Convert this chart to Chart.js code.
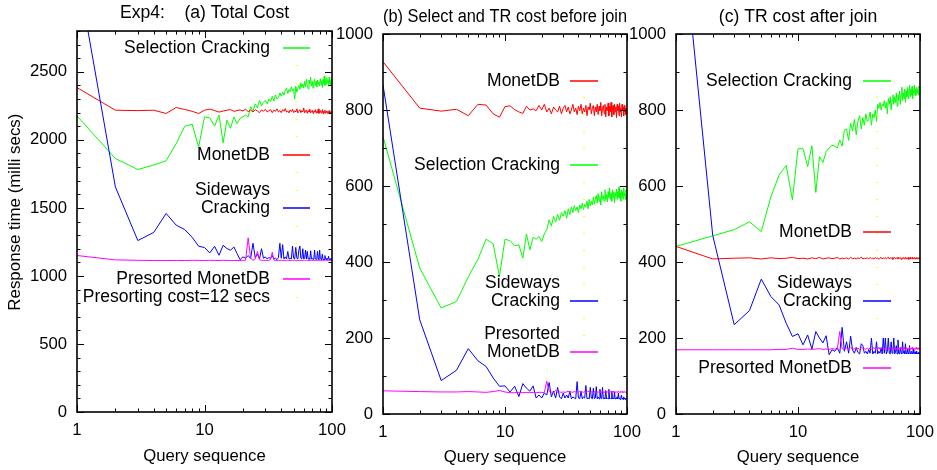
<!DOCTYPE html>
<html lang="en">
<head>
<meta charset="UTF-8">
<title>Exp4 response time</title>
<script src="https://cdn.jsdelivr.net/npm/chart.js"></script>
<style>
  body { margin: 0; background: #fff; }
  .panel { position: absolute; top: 0; }
</style>
</head>
<body>
<div class="panel" style="left:0px"><canvas id="chartA" width="350" height="470"></canvas></div>
<div class="panel" style="left:325px"><canvas id="chartB" width="320" height="470"></canvas></div>
<div class="panel" style="left:615px"><canvas id="chartC" width="322" height="470"></canvas></div>
<script>
// query sequence numbers 1..100
const queries = [];
for (let q = 1; q <= 100; q++) queries.push(q);

const xTicks = [1, 10, 100];
const aYTicks = [0, 500, 1000, 1500, 2000, 2500];
const bcYTicks = [0, 200, 400, 600, 800, 1000];

// (a) Total Cost
const aSelection = [2176, 1863, 1782, 1815, 1846, 1973, 2101, 2115, 1948, 2169,
  2162, 2101, 2182, 1978, 2145, 2085, 2169, 2120, 2157, 2169,
  2182, 2169, 2243, 2210, 2265, 2235, 2290, 2250, 2275, 2290,
  2265, 2300, 2280, 2320, 2285, 2330, 2300, 2310, 2345, 2320,
  2350, 2330, 2365, 2380, 2340, 2370, 2355, 2390, 2360, 2375,
  2300, 2395, 2350, 2380, 2400, 2370, 2420, 2385, 2410, 2380,
  2430, 2390, 2445, 2400, 2375, 2440, 2410, 2460, 2395, 2430,
  2380, 2420, 2445, 2400, 2430, 2390, 2440, 2410, 2425, 2395,
  2450, 2405, 2430, 2385, 2445, 2415, 2470, 2400, 2435, 2410,
  2455, 2420, 2440, 2395, 2460, 2415, 2435, 2405, 2445, 2420];
const aMonetDB = [2384, 2218, 2215, 2218, 2194, 2238, 2223, 2210, 2194, 2218,
  2226, 2215, 2204, 2212, 2218, 2222, 2210, 2215, 2220, 2212,
  2225, 2208, 2218, 2205, 2222, 2212, 2200, 2220, 2210, 2225,
  2205, 2215, 2222, 2200, 2218, 2210, 2228, 2205, 2215, 2200,
  2222, 2210, 2230, 2205, 2212, 2198, 2220, 2208, 2225, 2200,
  2215, 2205, 2228, 2198, 2210, 2222, 2200, 2215, 2205, 2235,
  2198, 2212, 2220, 2195, 2215, 2205, 2225, 2198, 2210, 2218,
  2195, 2212, 2205, 2222, 2198, 2210, 2200, 2228, 2195, 2208,
  2215, 2198, 2205, 2222, 2192, 2210, 2200, 2218, 2195, 2205,
  2212, 2195, 2208, 2200, 2215, 2192, 2205, 2198, 2208, 2200];
const aSideways = [3260, 1654, 1260, 1320, 1459, 1373, 1341, 1284, 1218, 1209,
  1169, 1218, 1152, 1225, 1201, 1189, 1213, 1165, 1120, 1140,
  1130, 1150, 1128, 1240, 1135, 1160, 1125, 1200, 1130, 1140,
  1125, 1135, 1130, 1150, 1125, 1130, 1120, 1135, 1240, 1130,
  1230, 1125, 1140, 1125, 1180, 1125, 1130, 1125, 1220, 1130,
  1125, 1210, 1130, 1125, 1190, 1220, 1130, 1125, 1200, 1125,
  1130, 1190, 1125, 1180, 1125, 1130, 1120, 1185, 1125, 1130,
  1120, 1125, 1190, 1125, 1120, 1130, 1180, 1125, 1120, 1190,
  1125, 1120, 1130, 1160, 1120, 1125, 1120, 1150, 1125, 1120,
  1130, 1120, 1125, 1145, 1120, 1125, 1120, 1130, 1120, 1125];
const aPresorted = [1150, 1118, 1115, 1113, 1113, 1114, 1113, 1115, 1114, 1113,
  1115, 1114, 1113, 1115, 1114, 1113, 1113, 1114, 1113, 1115,
  1115, 1280, 1130, 1115, 1125, 1180, 1120, 1115, 1114, 1115,
  1113, 1115, 1120, 1175, 1118, 1114, 1113, 1115, 1114, 1116,
  1113, 1115, 1114, 1113, 1116, 1114, 1113, 1115, 1114, 1113,
  1116, 1114, 1115, 1113, 1114, 1116, 1113, 1115, 1114, 1113,
  1115, 1114, 1116, 1113, 1114, 1115, 1113, 1114, 1116, 1113,
  1115, 1114, 1113, 1115, 1114, 1116, 1113, 1114, 1115, 1113,
  1114, 1116, 1113, 1115, 1114, 1113, 1115, 1114, 1116, 1113,
  1114, 1115, 1113, 1114, 1116, 1113, 1115, 1114, 1113, 1115];

// (b) Select and TR cost before join
const bMonetDB = [927, 805, 797, 802, 785, 815, 813, 790, 781, 809,
  811, 801, 795, 791, 810, 800, 803, 798, 812, 800,
  815, 795, 805, 790, 808, 800, 795, 810, 790, 805,
  812, 795, 808, 790, 800, 815, 795, 805, 788, 810,
  798, 815, 790, 805, 795, 812, 785, 808, 800, 818,
  790, 805, 812, 785, 808, 795, 815, 788, 810, 798,
  820, 785, 805, 812, 790, 815, 782, 808, 798, 818,
  785, 810, 795, 820, 782, 805, 812, 788, 815, 795,
  808, 780, 815, 798, 810, 785, 818, 795, 805, 782,
  815, 798, 808, 785, 812, 795, 805, 788, 800, 792];
const bSelection = [730, 384, 279, 296, 361, 407, 460, 448, 362, 460,
  456, 443, 445, 410, 474, 432, 465, 460, 467, 454,
  474, 485, 511, 495, 520, 505, 525, 510, 530, 520,
  535, 515, 540, 525, 545, 530, 548, 535, 545, 530,
  550, 540, 555, 538, 552, 545, 560, 540, 565, 548,
  560, 550, 570, 552, 565, 575, 555, 580, 560, 572,
  550, 585, 565, 575, 560, 590, 565, 578, 558, 585,
  570, 595, 565, 580, 560, 590, 570, 585, 555, 580,
  575, 592, 565, 585, 570, 598, 568, 582, 560, 590,
  572, 585, 565, 595, 575, 580, 565, 590, 570, 580];
const bSideways = [866, 248, 88, 115, 172, 140, 125, 95, 73, 74,
  58, 73, 46, 80, 68, 60, 74, 42, 50, 42,
  55, 50, 83, 45, 60, 42, 70, 45, 40, 55,
  42, 50, 42, 60, 40, 45, 42, 40, 85, 42,
  40, 60, 40, 45, 42, 75, 40, 42, 40, 70,
  42, 40, 68, 40, 42, 72, 40, 45, 40, 65,
  42, 40, 70, 40, 42, 40, 62, 40, 42, 40,
  65, 40, 42, 40, 60, 40, 42, 40, 58, 40,
  42, 40, 45, 40, 55, 42, 40, 38, 42, 50,
  40, 42, 38, 45, 40, 42, 38, 40, 42, 40];
const bPresorted = [61, 59, 58, 58, 59, 58, 57, 59, 62, 58,
  56, 56, 57, 56, 57, 56, 57, 56, 57, 57,
  56, 86, 60, 58, 57, 62, 57, 58, 57, 58,
  57, 58, 60, 57, 58, 57, 59, 58, 57, 58,
  60, 57, 58, 57, 59, 58, 57, 60, 58, 57,
  58, 59, 57, 58, 60, 57, 58, 57, 59, 58,
  57, 58, 60, 57, 58, 57, 59, 58, 57, 60,
  58, 57, 58, 59, 57, 58, 60, 57, 58, 57,
  59, 58, 57, 58, 60, 57, 58, 59, 57, 58,
  57, 60, 58, 57, 58, 59, 57, 58, 57, 58];

// (c) TR cost after join
const cSelection = [441, 469, 485, 506, 480, 572, 629, 654, 564, 698,
  698, 651, 706, 583, 677, 662, 690, 700, 707, 705,
  700, 721, 705, 747, 750, 720, 765, 745, 775, 735,
  770, 785, 750, 780, 760, 790, 770, 775, 795, 760,
  790, 780, 800, 770, 815, 805, 820, 800, 815, 810,
  825, 805, 820, 790, 830, 815, 835, 800, 825, 840,
  815, 835, 820, 845, 810, 840, 825, 850, 815, 840,
  860, 825, 845, 830, 855, 820, 850, 835, 860, 830,
  845, 865, 835, 855, 840, 862, 830, 850, 845, 866,
  838, 855, 840, 860, 845, 855, 840, 862, 848, 850];
const cMonetDB = [441, 408, 410, 411, 408, 411, 409, 410, 412, 409,
  410, 408, 411, 409, 412, 408, 410, 411, 409, 410,
  412, 408, 410, 409, 411, 408, 412, 409, 410, 408,
  411, 409, 413, 408, 410, 409, 411, 408, 412, 409,
  410, 408, 412, 409, 411, 407, 410, 412, 408, 411,
  409, 412, 408, 410, 413, 408, 411, 409, 412, 407,
  410, 412, 408, 411, 409, 413, 408, 410, 412, 407,
  411, 409, 412, 408, 410, 413, 408, 411, 409, 412,
  407, 410, 412, 408, 411, 409, 413, 408, 410, 412,
  408, 411, 409, 412, 408, 410, 411, 408, 410, 409];
const cSideways = [1440, 470, 235, 272, 355, 309, 287, 239, 204, 211,
  182, 208, 171, 217, 200, 187, 206, 156, 169, 165,
  175, 160, 228, 165, 190, 160, 205, 168, 160, 175,
  162, 158, 185, 180, 160, 165, 158, 170, 160, 200,
  158, 165, 160, 190, 158, 165, 160, 175, 158, 200,
  160, 200, 158, 165, 200, 160, 158, 190, 160, 165,
  200, 158, 162, 180, 158, 195, 160, 158, 175, 160,
  158, 190, 160, 165, 158, 185, 160, 158, 170, 160,
  158, 180, 160, 158, 165, 160, 158, 170, 160, 158,
  162, 158, 165, 158, 160, 158, 162, 158, 160, 158];
const cPresorted = [169, 169, 169, 169, 169, 169, 170, 170, 173, 170,
  170, 171, 170, 171, 172, 170, 171, 170, 172, 171,
  170, 217, 172, 170, 174, 171, 176, 170, 172, 171,
  173, 170, 175, 171, 172, 170, 174, 171, 173, 170,
  172, 175, 170, 173, 171, 176, 170, 172, 174, 171,
  170, 175, 172, 170, 174, 171, 176, 170, 173, 171,
  172, 170, 175, 171, 173, 170, 174, 172, 170, 176,
  171, 173, 170, 175, 172, 170, 174, 171, 173, 170,
  172, 176, 170, 173, 171, 175, 170, 172, 174, 171,
  170, 173, 175, 171, 172, 170, 174, 171, 172, 170];

const GREEN = '#00ff00', RED = '#ff0000', BLUE = '#0000ff', MAGENTA = '#ff00ff', YELLOW = '#ffff00';
const FONT = 'Liberation Sans';

Chart.defaults.font.family = FONT;
Chart.defaults.font.size = 16.7;
Chart.defaults.color = '#000';

function series(values) {
    return values.map((v, i) => ({ x: queries[i], y: v }));
}

function line(label, values, color, order) {
    return { label: label, data: series(values), borderColor: color, backgroundColor: color,
             borderWidth: 1, pointRadius: 0, tension: 0, order: order };
}

// gnuplot style frame with inward ticks, drawn from the chart scales
const gnuplotFrame = {
    id: 'gnuplotFrame',
    afterDatasetsDraw(chart, args, opts) {
        const { ctx, chartArea: a, scales: { x, y } } = chart;
        ctx.save();
        ctx.strokeStyle = '#000';
        ctx.lineWidth = 1;
        ctx.beginPath();
        const xMinor = [];
        [1, 10].forEach(d => { for (let k = 2; k <= 9; k++) xMinor.push(k * d); });
        xMinor.forEach(v => {
            const px = Math.round(x.getPixelForValue(v)) + 0.5;
            ctx.moveTo(px, a.bottom); ctx.lineTo(px, a.bottom - 3.5);
            ctx.moveTo(px, a.top); ctx.lineTo(px, a.top + 3.5);
        });
        xTicks.forEach(v => {
            const px = Math.round(x.getPixelForValue(v)) + 0.5;
            ctx.moveTo(px, a.bottom); ctx.lineTo(px, a.bottom - 7);
            ctx.moveTo(px, a.top); ctx.lineTo(px, a.top + 7);
        });
        for (let v = 0; v <= opts.yMax; v += 100) {
            const py = Math.round(y.getPixelForValue(v)) + 0.5;
            const len = opts.yMajor.includes(v) ? 7 : 3.5;
            ctx.moveTo(a.left, py); ctx.lineTo(a.left + len, py);
            ctx.moveTo(a.right, py); ctx.lineTo(a.right - len, py);
        }
        ctx.stroke();
        ctx.lineWidth = 1.6;
        ctx.strokeRect(a.left, a.top, a.right - a.left, a.bottom - a.top);
        ctx.restore();
    }
};

// gnuplot style key: right aligned text, sample line to the right
const gnuplotKey = {
    id: 'gnuplotKey',
    afterDatasetsDraw(chart, args, opts) {
        const ctx = chart.ctx;
        ctx.save();
        ctx.font = '17.5px "' + FONT + '"';
        ctx.textAlign = 'right';
        ctx.textBaseline = 'middle';
        // faint yellow dotted column of the presorting entry
        ctx.fillStyle = YELLOW;
        for (let yy = opts.dotTop; yy <= opts.dotBottom + 0.5; yy += opts.dotStep) {
            ctx.fillRect(opts.sampleX[0] + (opts.sampleX[1] - opts.sampleX[0]) / 2 - 1, Math.round(yy), 2, 1);
        }
        opts.entries.forEach(e => {
            ctx.fillStyle = '#000';
            e.lines.forEach((t, i) => {
                ctx.fillText(t, opts.textRight, e.y - (e.lines.length - 1 - i) * 18);
            });
            if (!e.dot) {
                ctx.strokeStyle = e.color;
                ctx.lineWidth = 1.5;
                ctx.beginPath();
                ctx.moveTo(opts.sampleX[0], e.y);
                ctx.lineTo(opts.sampleX[1], e.y);
                ctx.stroke();
            }
        });
        ctx.restore();
    }
};

function makeChart(id, p) {
    return new Chart(document.getElementById(id), {
        type: 'line',
        data: { datasets: p.datasets },
        options: {
            responsive: false,
            animation: false,
            layout: { padding: { left: 0, right: p.padRight, top: 0, bottom: 0 } },
            scales: {
                x: {
                    type: 'logarithmic', min: 1, max: 100,
                    grid: { display: false, drawTicks: false }, border: { display: false },
                    afterBuildTicks: s => { s.ticks = xTicks.map(v => ({ value: v })); },
                    afterFit: s => { s.height = p.xHeight; s.paddingLeft = 0; s.paddingRight = 0; },
                    ticks: { padding: 8, maxRotation: 0, autoSkip: false, callback: v => String(v) },
                    title: { display: true, text: 'Query sequence', padding: { top: 0, bottom: p.xTitlePad } }
                },
                y: {
                    type: 'linear', min: 0, max: p.yMax,
                    grid: { display: false, drawTicks: false }, border: { display: false },
                    afterBuildTicks: s => { s.ticks = p.yTicks.map(v => ({ value: v })); },
                    afterFit: s => { s.width = p.yWidth; s.paddingTop = 0; s.paddingBottom = 0; },
                    ticks: { padding: 10, callback: v => String(v) },
                    title: { display: !!p.yTitle, text: p.yTitle || '', font: { size: 16.9 },
                             padding: { top: 5, bottom: 0 } }
                }
            },
            plugins: {
                legend: { display: false },
                tooltip: { enabled: false },
                title: { display: true, text: p.title, fullSize: false, color: '#000',
                         font: { size: 17.6, weight: 'normal' }, padding: p.titlePad },
                gnuplotFrame: { yMax: p.yMax, yMajor: p.yTicks },
                gnuplotKey: p.key
            }
        },
        plugins: [gnuplotFrame, gnuplotKey]
    });
}

makeChart('chartA', {
    title: 'Exp4:    (a) Total Cost',
    titlePad: { top: 3, bottom: 6.9 },
    // leading spaces nudge the rotated title upward, as in the original
    yTitle: '    Response time (milli secs)',
    yMax: 2800, yTicks: aYTicks, yWidth: 77, padRight: 18, xHeight: 58, xTitlePad: 4,
    datasets: [
        line('Selection Cracking', aSelection, GREEN, 3),
        line('MonetDB', aMonetDB, RED, 2),
        line('Sideways Cracking', aSideways, BLUE, 1),
        line('Presorted MonetDB', aPresorted, MAGENTA, 0)
    ],
    key: {
        textRight: 270, sampleX: [283, 310], dotTop: 65, dotBottom: 297, dotStep: 17.85,
        entries: [
            { lines: ['Selection Cracking'], color: GREEN, y: 48 },
            { lines: ['MonetDB'], color: RED, y: 155 },
            { lines: ['Sideways', 'Cracking'], color: BLUE, y: 208 },
            { lines: ['Presorted MonetDB'], color: MAGENTA, y: 279 },
            { lines: ['Presorting cost=12 secs'], color: YELLOW, y: 297, dot: true }
        ]
    }
});

makeChart('chartB', {
    title: '(b) Select and TR cost before join',
    titlePad: { top: 6.4, bottom: 6.5 },
    yMax: 1000, yTicks: bcYTicks, yWidth: 58, padRight: 18, xHeight: 56, xTitlePad: 2.5,
    datasets: [
        line('MonetDB', bMonetDB, RED, 3),
        line('Selection Cracking', bSelection, GREEN, 2),
        line('Sideways Cracking', bSideways, BLUE, 1),
        line('Presorted MonetDB', bPresorted, MAGENTA, 0)
    ],
    key: {
        textRight: 235, sampleX: [245, 273], dotTop: 97, dotBottom: 335, dotStep: 17,
        entries: [
            { lines: ['MonetDB'], color: RED, y: 81 },
            { lines: ['Selection Cracking'], color: GREEN, y: 165 },
            { lines: ['Sideways', 'Cracking'], color: BLUE, y: 301 },
            { lines: ['Presorted', 'MonetDB'], color: MAGENTA, y: 352 }
        ]
    }
});

makeChart('chartC', {
    title: '(c) TR cost after join',
    titlePad: { top: 6.4, bottom: 6.5 },
    yMax: 1000, yTicks: bcYTicks, yWidth: 61, padRight: 17, xHeight: 56, xTitlePad: 2.5,
    datasets: [
        line('Selection Cracking', cSelection, GREEN, 3),
        line('MonetDB', cMonetDB, RED, 2),
        line('Sideways Cracking', cSideways, BLUE, 1),
        line('Presorted MonetDB', cPresorted, MAGENTA, 0)
    ],
    key: {
        textRight: 237, sampleX: [248, 276], dotTop: 97, dotBottom: 334, dotStep: 17,
        entries: [
            { lines: ['Selection Cracking'], color: GREEN, y: 81 },
            { lines: ['MonetDB'], color: RED, y: 232 },
            { lines: ['Sideways', 'Cracking'], color: BLUE, y: 301 },
            { lines: ['Presorted MonetDB'], color: MAGENTA, y: 368 }
        ]
    }
});
</script>
</body>
</html>
